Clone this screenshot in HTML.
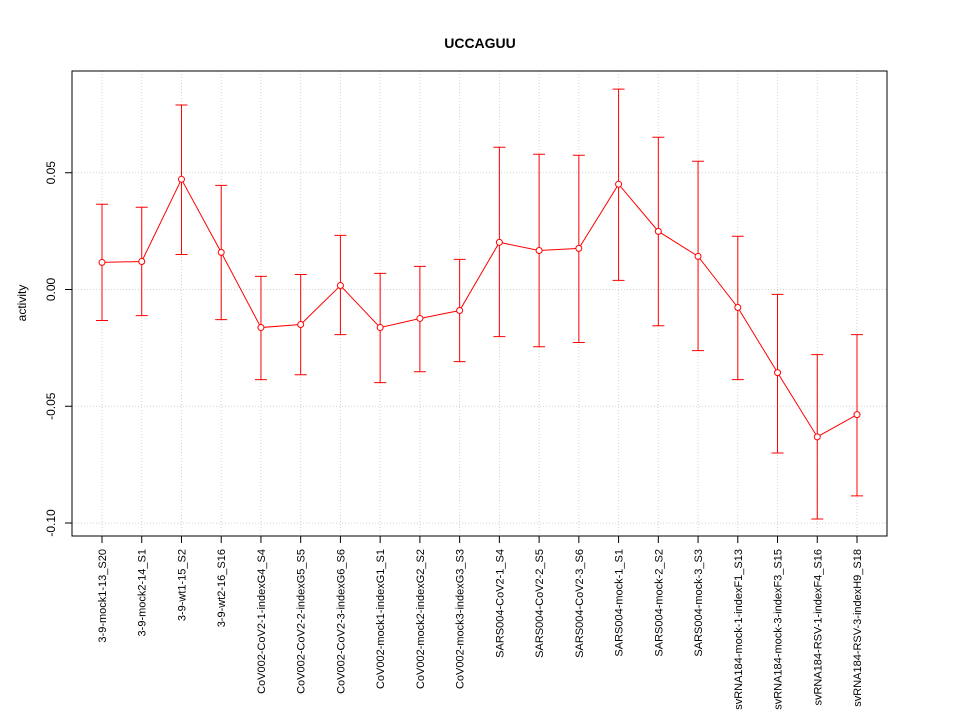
<!DOCTYPE html>
<html><head><meta charset="utf-8"><style>
html,body{margin:0;padding:0;background:#fff;}
svg{display:block;font-family:"Liberation Sans",Arial,sans-serif;}
</style></head><body>
<svg id="chart" width="960" height="720" viewBox="0 0 960 720" xmlns="http://www.w3.org/2000/svg">
<text x="480" y="48" text-anchor="middle" font-size="14" font-weight="bold">UCCAGUU</text>
<text transform="translate(26,303) rotate(-90)" text-anchor="middle" font-size="12">activity</text>
<g id="grid"></g><g id="marks"></g><g id="axes"></g>
<rect x="72" y="71" width="815" height="465" fill="none" stroke="#000" stroke-width="1"/>
</svg>
<script>
const categories = ["3-9-mock1-13_S20","3-9-mock2-14_S1","3-9-wt1-15_S2","3-9-wt2-16_S16","CoV002-CoV2-1-indexG4_S4","CoV002-CoV2-2-indexG5_S5","CoV002-CoV2-3-indexG6_S6","CoV002-mock1-indexG1_S1","CoV002-mock2-indexG2_S2","CoV002-mock3-indexG3_S3","SARS004-CoV2-1_S4","SARS004-CoV2-2_S5","SARS004-CoV2-3_S6","SARS004-mock-1_S1","SARS004-mock-2_S2","SARS004-mock-3_S3","svRNA184-mock-1-indexF1_S13","svRNA184-mock-3-indexF3_S15","svRNA184-RSV-1-indexF4_S16","svRNA184-RSV-3-indexH9_S18"];
const means = [0.0116,0.0120,0.0472,0.0159,-0.0163,-0.0150,0.0017,-0.0163,-0.0124,-0.0090,0.0202,0.0167,0.0176,0.0451,0.0249,0.0142,-0.0077,-0.0356,-0.0631,-0.0536];
const uppers = [0.0365,0.0352,0.0790,0.0446,0.0056,0.0064,0.0232,0.0069,0.0099,0.0129,0.0609,0.0579,0.0575,0.0858,0.0652,0.0549,0.0228,-0.0021,-0.0279,-0.0193];
const lowers = [-0.0133,-0.0112,0.0150,-0.0129,-0.0386,-0.0365,-0.0193,-0.0399,-0.0352,-0.0309,-0.0202,-0.0245,-0.0227,0.0039,-0.0155,-0.0262,-0.0386,-0.0700,-0.0983,-0.0884];
const yTicks = [0.05,0.00,-0.05,-0.10];
const yTickLabels = ["0.05","0.00","-0.05","-0.10"];

const NS="http://www.w3.org/2000/svg";
function xScale(i){return 102+i*(857-102)/(categories.length-1);}
function yScale(v){return 289.5-v*2335;}
function mk(tag,attrs,parent){const e=document.createElementNS(NS,tag);for(const k in attrs)e.setAttribute(k,attrs[k]);parent.appendChild(e);return e;}
const grid=document.getElementById('grid'),marks=document.getElementById('marks'),axes=document.getElementById('axes');

categories.forEach((c,i)=>{
  const x=xScale(i);
  const g=mk('line',{x1:x,x2:x,y1:71,y2:536,stroke:'#d3d3d3','stroke-dasharray':'1,2'},grid);
  
  
  const t=mk('line',{x1:x,x2:x,y1:536,y2:543,stroke:'#000'},axes);
  
  
  const l=mk('text',{transform:`translate(${x+4},549) rotate(-90)`,'text-anchor':'end','font-size':'11'},axes);
  l.textContent=c;
  
  
});
yTicks.forEach((v,i)=>{
  const y=yScale(v);
  const g=mk('line',{x1:72,x2:887,y1:y,y2:y,stroke:'#d3d3d3','stroke-dasharray':'1,2'},grid);
  
  
  const t=mk('line',{x1:65,x2:72,y1:y,y2:y,stroke:'#000'},axes);
  
  
  const l=mk('text',{transform:`translate(55,${y}) rotate(-90)`,'text-anchor':'middle','font-size':'12'},axes);
  l.textContent=yTickLabels[i];
  
  
});
const pts=means.map((m,i)=>xScale(i)+','+yScale(m)).join(' ');
const line=mk('polyline',{points:pts,fill:'none',stroke:'#ff0000','stroke-width':1},marks);


means.forEach((m,i)=>{
  const x=xScale(i),yu=yScale(uppers[i]),yl=yScale(lowers[i]);
  const eb=mk('path',{d:`M${x},${yu}V${yl}M${x-6},${yu}H${x+6}M${x-6},${yl}H${x+6}`,stroke:'#ff0000',fill:'none','stroke-width':1},marks);
  
  
  const p=mk('circle',{cx:x,cy:yScale(m),r:3,fill:'#fff',stroke:'#ff0000','stroke-width':1},marks);
  
  
});
</script>
</body></html>
